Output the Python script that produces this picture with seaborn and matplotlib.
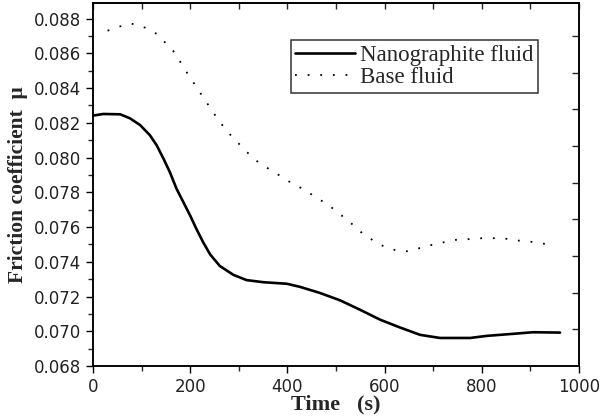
import numpy as np
import pandas as pd
import seaborn as sns
import matplotlib.pyplot as plt
from matplotlib.ticker import MultipleLocator

# friction coefficient vs time
time_nano = [1, 21, 56, 76, 97, 117, 131, 145, 158, 172, 186, 200, 213,
             227, 241, 261, 289, 316, 350, 399, 426, 467, 508, 549, 591,
             632, 673, 714, 776, 810, 865, 905, 961]
mu_nano = [0.08242, 0.08251, 0.08249, 0.08226, 0.08187, 0.08129, 0.08071,
           0.07994, 0.07917, 0.0782, 0.07743, 0.07666, 0.07588, 0.07511,
           0.07443, 0.07376, 0.07325, 0.07295, 0.07283, 0.07274, 0.07256,
           0.07221, 0.07179, 0.07125, 0.07067, 0.07022, 0.0698, 0.06962,
           0.06962, 0.06974, 0.06986, 0.06995, 0.06993]

time_base = [30, 47, 76, 92, 122, 138, 152, 165, 177, 195, 206, 225, 257,
             268, 282, 296, 311, 341, 371, 388, 417, 433, 463, 479, 508,
             525, 541, 556, 586, 602, 630, 648, 679, 693, 709, 722, 753,
             769, 800, 817, 846, 862, 893, 936]
mu_base = [0.0873, 0.08748, 0.08771, 0.08765, 0.0873, 0.08696, 0.0865,
           0.08614, 0.08562, 0.08481, 0.08435, 0.08354, 0.0822, 0.0818,
           0.08133, 0.08093, 0.08046, 0.07971, 0.07919, 0.0789, 0.07838,
           0.0782, 0.07762, 0.07739, 0.07675, 0.07635, 0.076, 0.07559,
           0.07507, 0.07484, 0.07461, 0.07461, 0.07484, 0.07496, 0.07501,
           0.07513, 0.0753, 0.0753, 0.07536, 0.07536, 0.07536, 0.07525,
           0.07519, 0.07501]

x_ticks = [0, 200, 400, 600, 800, 1000]
y_ticks = [0.068, 0.070, 0.072, 0.074, 0.076, 0.078, 0.080, 0.082,
           0.084, 0.086, 0.088]

df_nano = pd.DataFrame({'time': time_nano, 'mu': mu_nano})
df_base = pd.DataFrame({'time': time_base, 'mu': mu_base})

sns.set_style("ticks")
plt.rcParams['font.family'] = ['DejaVu Sans']

fig, ax = plt.subplots(figsize=(6, 4.17), dpi=100)
fig.subplots_adjust(left=0.155, right=0.965, top=0.993, bottom=0.122)

sns.lineplot(data=df_nano, x='time', y='mu', ax=ax, color='black',
             linewidth=1.9, label='Nanographite fluid')
sns.lineplot(data=df_base, x='time', y='mu', ax=ax, color='black',
             linewidth=1.3, linestyle=(0, (1, 6)), label='Base fluid')

ax.set_xlim(0, 1000)
ax.set_ylim(0.068, 0.0889)
ax.set_xticks(x_ticks)
ax.set_yticks(y_ticks)
ax.set_yticklabels([f'{v:.3f}' for v in y_ticks])
ax.xaxis.set_minor_locator(MultipleLocator(100))
ax.yaxis.set_minor_locator(MultipleLocator(0.001))
ax.tick_params(axis='both', which='major', direction='out', length=5,
               width=1, labelsize=12, colors='black', labelcolor='#222222')
ax.tick_params(axis='both', which='minor', direction='out', length=3.5,
               width=1)

# top side: inward ticks every 100 s, no labels
top = ax.secondary_xaxis('top')
top.set_xticks(range(0, 1001, 100))
top.set_xticklabels([])
top.tick_params(axis='x', direction='in', length=4, width=1)

# right side: independent inward ticks, no labels
ax2 = ax.twinx()
ax2.set_ylim(0, 9.9)
ax2.set_yticks(range(1, 10))
ax2.set_yticklabels([])
ax2.tick_params(axis='y', direction='in', length=5, width=1)

for a in (ax, ax2):
    for s in a.spines.values():
        s.set_visible(True)
        s.set_color('black')
        s.set_linewidth(1.1)
top.spines['top'].set_linewidth(1.1)

ax.set_xlabel('Time   (s)', family='Liberation Serif', fontweight='bold',
              fontsize=16, labelpad=-1)
ax.set_ylabel('Friction coefficient  \u03bc', family='Liberation Serif',
              fontweight='bold', fontsize=15.5, labelpad=4)

leg = ax.legend(loc='upper right', bbox_to_anchor=(0.915, 0.897),
                prop={'family': 'Liberation Serif', 'size': 16.5},
                frameon=True, fancybox=False, handlelength=2.6,
                handletextpad=0.2, borderpad=0.2, labelspacing=0.05,
                borderaxespad=0)
leg.get_frame().set_edgecolor('black')
leg.get_frame().set_linewidth(1.1)

fig.savefig('out.png', dpi=100, facecolor='white')
plt.close()
